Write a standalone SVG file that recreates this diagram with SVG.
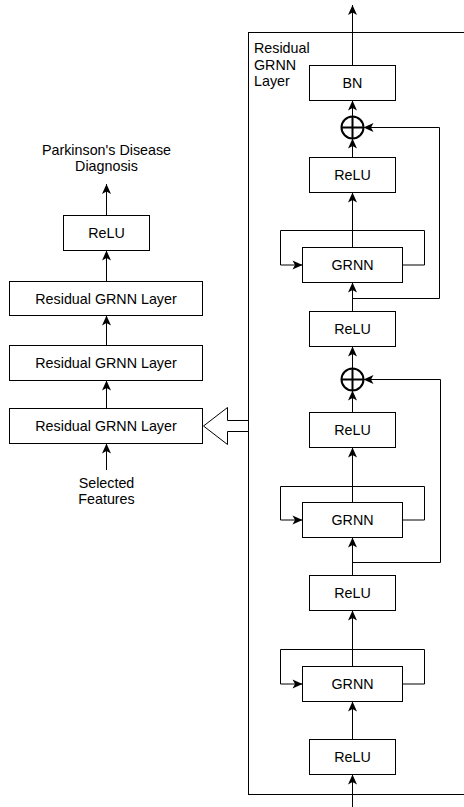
<svg xmlns="http://www.w3.org/2000/svg" width="464" height="807" viewBox="0 0 464 807">
  <defs>
    <marker id="arrow" markerUnits="userSpaceOnUse" markerWidth="10" markerHeight="9" refX="10" refY="4.5" orient="auto" overflow="visible">
      <path d="M0,0 L10,4.5 L0,9 L2.5,4.5 Z" fill="#000"/>
    </marker>
    <style>
      .box { fill: #fff; stroke: #000; stroke-width: 1; }
      .lbl { font-family: "Liberation Sans", Arial, sans-serif; font-size: 14.3px; fill: #000; text-anchor: middle; }
      .lbl-left { font-family: "Liberation Sans", Arial, sans-serif; font-size: 14.3px; fill: #000; }
      .edge { fill: none; stroke: #000; stroke-width: 1; marker-end: url(#arrow); }
      .plus { fill: #fff; stroke: #000; stroke-width: 2; }
    </style>
  </defs>
  <rect width="464" height="807" fill="#fff"/>

  <!-- container of the residual layer -->
  <g id="residual-layer-frame">
    <rect x="248.5" y="32.5" width="240" height="762" fill="none" stroke="#000" stroke-width="1"/>
    <text class="lbl-left" x="254" y="53">Residual</text>
    <text class="lbl-left" x="254" y="70">GRNN</text>
    <text class="lbl-left" x="254" y="86">Layer</text>
  </g>

  <!-- connectors -->
  <g id="connectors">
    <!-- right column, main path -->
    <path class="edge" d="M352.5,65.5 V5"/>
    <path class="edge" d="M352.5,116.5 V100.5"/>
    <path class="edge" d="M352.5,157.5 V138.5"/>
    <path class="edge" d="M352.5,247.5 V192.5"/>
    <path class="edge" d="M352.5,311.5 V282.5"/>
    <path class="edge" d="M352.5,368.5 V346.5"/>
    <path class="edge" d="M352.5,412.5 V390.5"/>
    <path class="edge" d="M352.5,502.5 V447.5"/>
    <path class="edge" d="M352.5,575.5 V537.5"/>
    <path class="edge" d="M352.5,666.5 V610.5"/>
    <path class="edge" d="M352.5,739.5 V701.5"/>
    <path class="edge" d="M352.5,807 V774.5"/>
    <!-- recurrent self-loops -->
    <path class="edge" d="M402.5,265 H424.5 V230.5 H280.5 V265 H302.5"/>
    <path class="edge" d="M402.5,520 H424.5 V486.5 H280.5 V520 H302.5"/>
    <path class="edge" d="M402.5,684 H424.5 V649.5 H280.5 V684 H302.5"/>
    <!-- skip connections -->
    <path class="edge" d="M352.5,298.5 H439.5 V127.5 H363.5"/>
    <path class="edge" d="M352.5,562.5 H440.5 V379.5 H363.5"/>
    <!-- left column -->
    <path class="edge" d="M106.5,215.5 V184"/>
    <path class="edge" d="M106.5,281.5 V250.5"/>
    <path class="edge" d="M106.5,345.5 V315.5"/>
    <path class="edge" d="M106.5,408.5 V380.5"/>
    <path class="edge" d="M106.5,470 V443.5"/>
    <!-- expansion arrow -->
    <polygon points="248.5,420.5 227.5,420.5 227.5,407.5 203.5,426 227.5,444.5 227.5,431.5 248.5,431.5" fill="#fff" stroke="#000" stroke-width="1"/>
  </g>

  <!-- right column nodes -->
  <g id="bn"><rect class="box" x="309.5" y="65.5" width="86" height="35"/><text class="lbl" x="352.5" y="88">BN</text></g>
  <g id="add-1"><circle class="plus" cx="352.5" cy="127.5" r="11"/><path d="M341.5,127.5 H363.5 M352.5,116.5 V138.5" stroke="#000" stroke-width="2"/></g>
  <g id="relu-r1"><rect class="box" x="309.5" y="157.5" width="86" height="35"/><text class="lbl" x="352.5" y="180">ReLU</text></g>
  <g id="grnn-1"><rect class="box" x="302.5" y="247.5" width="100" height="35"/><text class="lbl" x="352.5" y="270">GRNN</text></g>
  <g id="relu-r2"><rect class="box" x="309.5" y="311.5" width="86" height="35"/><text class="lbl" x="352.5" y="334">ReLU</text></g>
  <g id="add-2"><circle class="plus" cx="352.5" cy="379.5" r="11"/><path d="M341.5,379.5 H363.5 M352.5,368.5 V390.5" stroke="#000" stroke-width="2"/></g>
  <g id="relu-r3"><rect class="box" x="309.5" y="412.5" width="86" height="35"/><text class="lbl" x="352.5" y="435">ReLU</text></g>
  <g id="grnn-2"><rect class="box" x="302.5" y="502.5" width="100" height="35"/><text class="lbl" x="352.5" y="525">GRNN</text></g>
  <g id="relu-r4"><rect class="box" x="309.5" y="575.5" width="86" height="35"/><text class="lbl" x="352.5" y="598">ReLU</text></g>
  <g id="grnn-3"><rect class="box" x="302.5" y="666.5" width="100" height="35"/><text class="lbl" x="352.5" y="689">GRNN</text></g>
  <g id="relu-r5"><rect class="box" x="309.5" y="739.5" width="86" height="35"/><text class="lbl" x="352.5" y="762">ReLU</text></g>

  <!-- left column nodes -->
  <g id="diagnosis"><text class="lbl" x="106.5" y="155">Parkinson's Disease</text><text class="lbl" x="106.5" y="171">Diagnosis</text></g>
  <g id="relu-left"><rect class="box" x="63.5" y="215.5" width="86" height="35"/><text class="lbl" x="106.5" y="238">ReLU</text></g>
  <g id="res-layer-3"><rect class="box" x="9.5" y="281.5" width="193" height="34"/><text class="lbl" x="106" y="303.5">Residual GRNN Layer</text></g>
  <g id="res-layer-2"><rect class="box" x="9.5" y="345.5" width="193" height="35"/><text class="lbl" x="106" y="368">Residual GRNN Layer</text></g>
  <g id="res-layer-1"><rect class="box" x="9.5" y="408.5" width="193" height="35"/><text class="lbl" x="106" y="431">Residual GRNN Layer</text></g>
  <g id="features"><text class="lbl" x="106.5" y="488">Selected</text><text class="lbl" x="106.5" y="504">Features</text></g>
</svg>
